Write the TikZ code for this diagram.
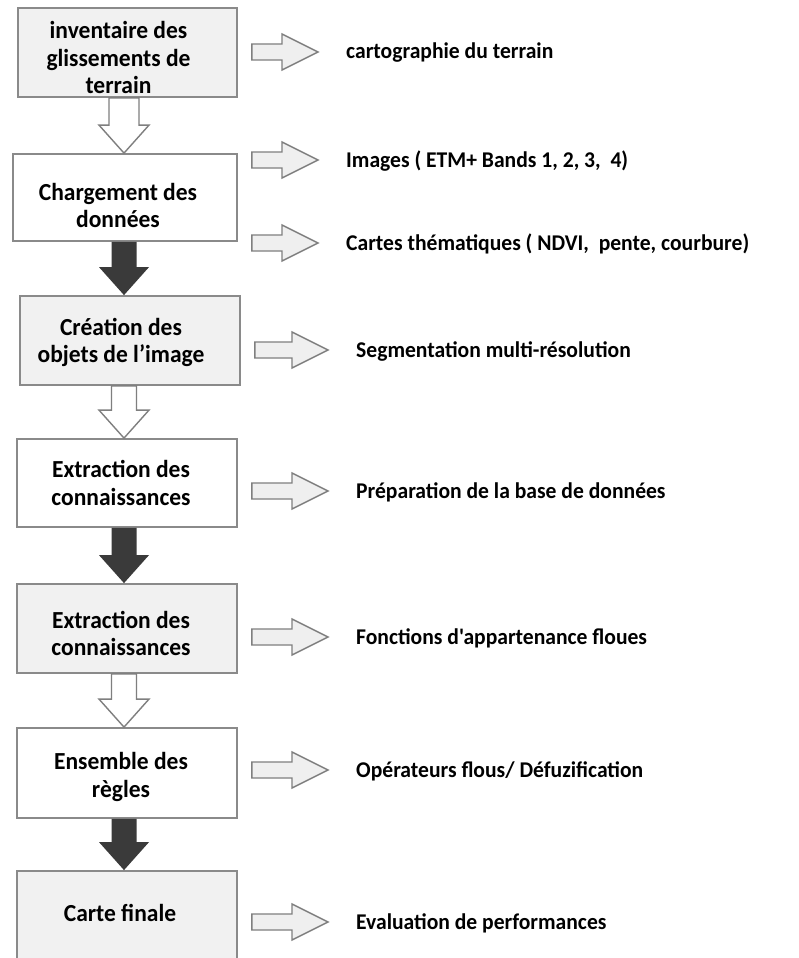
\documentclass[tikz,border=0pt]{standalone}
\usepackage{fontspec}
\newfontfamily\carl{Carlito}[FakeStretch=0.96]
\usetikzlibrary{calc}
\definecolor{boxgray}{HTML}{8A8A8A}
\definecolor{lightfill}{HTML}{F1F1F1}
\definecolor{darkfill}{HTML}{3A3A3A}
\definecolor{arrowline}{HTML}{7F7F7F}
\definecolor{arrowfill}{HTML}{EFEFEF}

% vertical block arrow: [shaft half width]{style}{from box}{to box}
\newcommand\vblock[4][12.5]{%
  \path[#2] let \p1=(#3.south), \p2=(#4.north), \p3=(axis) in
    (\x3-#1pt,\y1) -- (\x3+#1pt,\y1) -- (\x3+#1pt,\y2+28pt) -- (\x3+25pt,\y2+28pt)
    -- (\x3,\y2) -- (\x3-25pt,\y2+28pt) -- (\x3-#1pt,\y2+28pt) -- cycle;}
% horizontal block arrow: {style}{from box}{to text}
\newcommand\hblock[3]{%
  \path[#1] let \p1=(#2.east), \p2=([yshift=7pt]#3.base west) in
    (\x1+14pt,\y2+8pt) -- (\x2-64pt,\y2+8pt) -- (\x2-64pt,\y2+18pt) -- (\x2-28pt,\y2)
    -- (\x2-64pt,\y2-18pt) -- (\x2-64pt,\y2-8pt) -- (\x1+14pt,\y2-8pt) -- cycle;}

\tikzset{
  txtfont/.style={font=\carl\bfseries\fontsize{22.5}{27}\selectfont},
  boxfont/.style={font=\carl\bfseries\fontsize{24.5}{27.5}\selectfont},
  box/.style={draw=boxgray, line width=1.8pt, inner sep=0pt},
  boxtext/.style={boxfont, align=center, inner sep=0pt},
  graybox/.style={box, fill=lightfill},
  whitebox/.style={box, fill=white},
  side/.style={txtfont, anchor=base west, inner sep=0pt},
  hollow/.style={draw=arrowline, line width=1.4pt, fill=white, line join=miter},
  darkarrow/.style={fill=darkfill},
  rightarrow/.style={draw=arrowline, line width=1.4pt, fill=arrowfill, line join=miter}
}

\begin{document}
\begin{tikzpicture}[x=1pt,y=-1pt]
\useasboundingbox (0,0) rectangle (798,958);
\clip (0,0) rectangle (798,958);
\fill[white] (0,0) rectangle (798,958);
\coordinate (axis) at (124,0);

\node[graybox, minimum width=219pt, minimum height=89pt,
  label={[boxtext, xshift=-9pt, yshift=-5pt]center:{inventaire des\\glissements de\\terrain}}] (b1) at (127.5,52.5) {};
\node[whitebox, minimum width=224pt, minimum height=87pt,
  label={[boxtext, xshift=-7pt, yshift=-8pt]center:{Chargement des\\données}}] (b2) at (125,197.5) {};
\node[graybox, minimum width=220pt, minimum height=89pt,
  label={[boxtext, xshift=-9pt, yshift=-2pt]center:{Création des\\objets de l’image}}] (b3) at (130,340.5) {};
\node[whitebox, minimum width=220pt, minimum height=88pt,
  label={[boxtext, xshift=-6pt, yshift=0pt]center:{Extraction des\\connaissances}}] (b4) at (127,483) {};
\node[graybox, minimum width=220pt, minimum height=89pt,
  label={[boxtext, xshift=-6pt, yshift=-5pt]center:{Extraction des\\connaissances}}] (b5) at (127,628.5) {};
\node[whitebox, minimum width=220pt, minimum height=90pt,
  label={[boxtext, xshift=-6pt, yshift=-4pt]center:{Ensemble des\\règles}}] (b6) at (127,773) {};
\node[graybox, minimum width=220pt, minimum height=97pt,
  label={[boxtext, xshift=-7pt, yshift=7pt]center:{Carte finale}}] (b7) at (127,919.5) {};

\node[side] (t1) at (346,59) {cartographie du terrain};
\node[side] (t2) at (346,167) {Images ( ETM+ Bands 1, 2, 3,\ \ 4)};
\node[side] (t3) at (346,250) {Cartes thématiques ( NDVI,\ \ pente, courbure)};
\node[side] (t4) at (356,357) {Segmentation multi-résolution};
\node[side] (t5) at (356,498) {Préparation de la base de données};
\node[side] (t6) at (356,644) {Fonctions d'appartenance floues};
\node[side] (t7) at (356,777) {Opérateurs flous/ Défuzification};
\node[side] (t8) at (356,929) {Evaluation de performances};

\vblock[15]{hollow}{b1}{b2}
\vblock{darkarrow}{b2}{b3}
\vblock{hollow}{b3}{b4}
\vblock{darkarrow}{b4}{b5}
\vblock{hollow}{b5}{b6}
\vblock{darkarrow}{b6}{b7}

\hblock{rightarrow}{b1}{t1}
\hblock{rightarrow}{b2}{t2}
\hblock{rightarrow}{b2}{t3}
\hblock{rightarrow}{b3}{t4}
\hblock{rightarrow}{b4}{t5}
\hblock{rightarrow}{b5}{t6}
\hblock{rightarrow}{b6}{t7}
\hblock{rightarrow}{b7}{t8}
\end{tikzpicture}
\end{document}
